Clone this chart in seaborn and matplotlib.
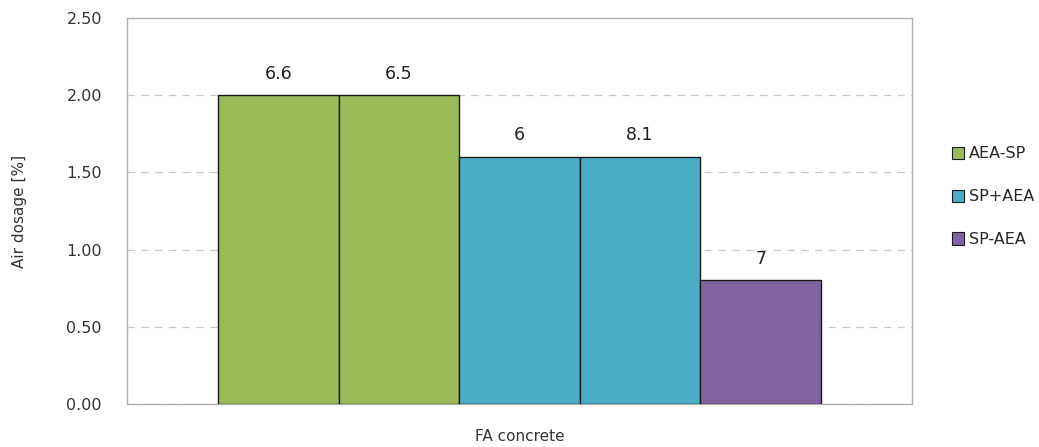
import matplotlib
matplotlib.use("Agg")
import matplotlib.pyplot as plt
import seaborn as sns
import pandas as pd
from matplotlib.patches import Patch

# bar data, left to right
bar_ids = ["b1", "b2", "b3", "b4", "b5"]
mixes = ["AEA-SP", "AEA-SP", "SP+AEA", "SP+AEA", "SP-AEA"]
air_dosage = [2.00, 2.00, 1.60, 1.60, 0.80]
bar_labels = ["6.6", "6.5", "6", "8.1", "7"]

groups = ["AEA-SP", "SP+AEA", "SP-AEA"]
colors = {"AEA-SP": "#9BBB59", "SP+AEA": "#4BACC6", "SP-AEA": "#8064A2"}

df = pd.DataFrame({"bar": bar_ids, "mix": mixes, "air": air_dosage})

sns.set_style("white")
plt.rcParams["font.family"] = ["DejaVu Sans"]

fig = plt.figure(figsize=(10.39, 4.47), dpi=100)
ax = fig.add_axes([0.1222, 0.0962, 0.7556, 0.8635])

sns.barplot(data=df, x="bar", y="air", hue="mix", hue_order=groups,
            palette=colors, saturation=1, dodge=False, width=1.0,
            edgecolor="#1a1a1a", linewidth=1.0, legend=False, ax=ax, zorder=3)

# value labels above each bar
for p in ax.patches:
    h = p.get_height()
    if h <= 0:
        continue
    i = int(round(p.get_x() + p.get_width() / 2))
    ax.annotate(bar_labels[i], (p.get_x() + p.get_width() / 2, h),
                xytext=(0, 9), textcoords="offset points", ha="center",
                va="bottom", fontsize=12.5, color="#222222")

ax.set_xlim(-1.255, 5.255)
ax.set_ylim(0, 2.5)
ax.set_yticks([0, 0.5, 1.0, 1.5, 2.0, 2.5])
ax.set_yticklabels(["0.00", "0.50", "1.00", "1.50", "2.00", "2.50"], fontsize=11.5, color="#333333")
ax.set_xticks([])
ax.tick_params(axis="y", length=0, pad=18)
ax.yaxis.grid(True, linestyle=(0, (6, 5)), color="#c8c8c8", linewidth=0.9, zorder=0)
for sp in ax.spines.values():
    sp.set_color("#b0b0b0")
    sp.set_linewidth(1.0)

ax.set_xlabel("FA concrete", fontsize=11, color="#333333", labelpad=18)
ax.set_ylabel("Air dosage [%]", fontsize=11, color="#333333", labelpad=28)

handles = [Patch(facecolor=colors[g], edgecolor="#1a1a1a", linewidth=0.8) for g in groups]
fig.legend(handles, groups, loc="center left", bbox_to_anchor=(0.902, 0.56),
           frameon=False, fontsize=11.5, handlelength=0.8, handleheight=0.8,
           handletextpad=0.3, labelspacing=1.75)

fig.savefig("out.png", dpi=100)
